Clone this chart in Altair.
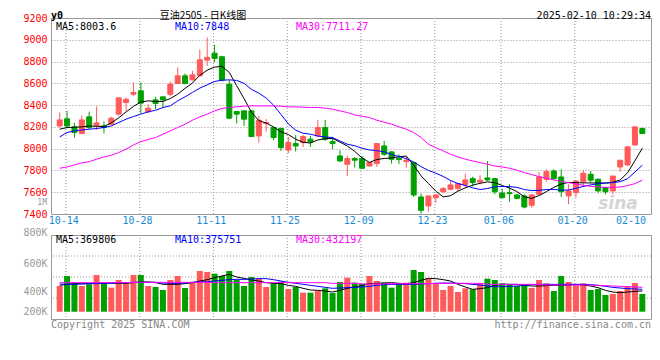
import altair as alt
import pandas as pd

# ---------------- data ----------------
dates = ["10-11", "10-14", "10-15", "10-16", "10-17", "10-18", "10-21", "10-22", "10-23", "10-24",
         "10-25", "10-28", "10-29", "10-30", "10-31", "11-01", "11-04", "11-05", "11-06", "11-07",
         "11-08", "11-11", "11-12", "11-13", "11-14", "11-15", "11-18", "11-19", "11-20", "11-21",
         "11-22", "11-25", "11-26", "11-27", "11-28", "11-29", "12-02", "12-03", "12-04", "12-05",
         "12-06", "12-09", "12-10", "12-11", "12-12", "12-13", "12-16", "12-17", "12-18", "12-19",
         "12-20", "12-23", "12-24", "12-25", "12-26", "12-27", "12-30", "12-31", "01-02", "01-03",
         "01-06", "01-07", "01-08", "01-09", "01-10", "01-13", "01-14", "01-15", "01-16", "01-17",
         "01-20", "01-21", "01-22", "01-23", "01-24", "01-27", "02-05", "02-06", "02-07", "02-10"]

opens = [8209, 8274, 8200, 8139, 8292, 8215, 8209, 8225, 8317, 8424,
         8500, 8531, 8338, 8448, 8476, 8500, 8598, 8669, 8632, 8669,
         8813, 8877, 8844, 8592, 8341, 8347, 8347, 8117, 8231, 8194,
         8185, 7988, 8047, 8056, 8087, 8117, 8194, 8065, 7933, 7857,
         7909, 7909, 7841, 7863, 8025, 7970, 7912, 7881, 7872, 7556,
         7474, 7550, 7605, 7627, 7636, 7667, 7725, 7694, 7731, 7725,
         7593, 7596, 7575, 7566, 7480, 7581, 7719, 7795, 7740, 7566,
         7596, 7697, 7765, 7719, 7642, 7612, 7832, 7851, 8034, 8185]
highs = [8332, 8347, 8237, 8304, 8341, 8387, 8249, 8292, 8467, 8470,
         8608, 8608, 8408, 8476, 8476, 8617, 8746, 8690, 8715, 8911,
         9021, 8954, 8853, 8629, 8347, 8353, 8356, 8301, 8271, 8200,
         8194, 8108, 8126, 8126, 8117, 8264, 8264, 8108, 7985, 7933,
         7924, 7933, 7872, 8047, 8071, 7979, 7949, 7924, 7872, 7587,
         7566, 7581, 7648, 7710, 7679, 7771, 7743, 7756, 7887, 7725,
         7633, 7673, 7581, 7581, 7581, 7786, 7811, 7811, 7811, 7673,
         7710, 7802, 7795, 7728, 7648, 7749, 7894, 8025, 8200, 8194]
lows = [8194, 8188, 8102, 8139, 8179, 8172, 8139, 8218, 8304, 8347,
        8485, 8323, 8332, 8363, 8372, 8479, 8598, 8592, 8623, 8669,
        8761, 8792, 8617, 8271, 8231, 8209, 8111, 8056, 8157, 8077,
        7979, 7958, 7973, 8016, 8016, 8108, 8071, 7995, 7878, 7749,
        7826, 7811, 7835, 7832, 7933, 7863, 7857, 7826, 7556, 7403,
        7422, 7504, 7596, 7618, 7605, 7642, 7654, 7673, 7703, 7581,
        7544, 7513, 7535, 7452, 7458, 7581, 7697, 7710, 7556, 7489,
        7550, 7648, 7688, 7596, 7581, 7581, 7789, 7841, 8025, 8139]
closes = [8264, 8209, 8148, 8264, 8194, 8237, 8194, 8280, 8467, 8454,
          8516, 8418, 8372, 8415, 8448, 8592, 8669, 8598, 8678, 8816,
          8838, 8828, 8629, 8280, 8317, 8271, 8111, 8261, 8240, 8102,
          8010, 8056, 8025, 8111, 8062, 8194, 8087, 8047, 7887, 7909,
          7894, 7820, 7872, 8047, 7949, 7903, 7900, 7894, 7575, 7434,
          7566, 7575, 7633, 7667, 7679, 7713, 7688, 7710, 7713, 7605,
          7550, 7587, 7544, 7464, 7575, 7740, 7789, 7725, 7605, 7612,
          7703, 7774, 7710, 7612, 7605, 7749, 7894, 8016, 8200, 8139]

ma5 = [8179, 8194, 8197, 8200, 8208, 8205, 8204, 8237, 8283, 8337,
       8388, 8429, 8439, 8434, 8434, 8460, 8500, 8553, 8603, 8673,
       8721, 8749, 8756, 8700, 8578, 8460, 8335, 8258, 8235, 8200,
       8155, 8130, 8087, 8058, 8052, 8080, 8092, 8094, 8060, 8025,
       7975, 7915, 7874, 7900, 7910, 7915, 7926, 7932, 7848, 7750,
       7680, 7610, 7557, 7568, 7610, 7640, 7665, 7682, 7695, 7688,
       7662, 7638, 7606, 7558, 7543, 7570, 7605, 7645, 7675, 7690,
       7688, 7686, 7685, 7685, 7684, 7692, 7712, 7778, 7890, 8004]
ma10 = [8108, 8148, 8163, 8172, 8179, 8185, 8194, 8209, 8240, 8271,
        8295, 8317, 8338, 8353, 8378, 8393, 8439, 8476, 8516, 8556,
        8586, 8617, 8629, 8632, 8627, 8600, 8545, 8510, 8465, 8400,
        8315, 8228, 8169, 8142, 8133, 8116, 8108, 8102, 8071, 8041,
        8027, 8004, 7988, 7982, 7971, 7945, 7928, 7908, 7878, 7835,
        7800, 7775, 7745, 7708, 7680, 7662, 7640, 7625, 7634, 7650,
        7652, 7652, 7644, 7625, 7615, 7617, 7625, 7626, 7619, 7620,
        7636, 7653, 7667, 7678, 7684, 7688, 7697, 7724, 7786, 7848]
ma30 = [7820, 7832, 7851, 7869, 7881, 7903, 7924, 7940, 7964, 7995,
        8034, 8065, 8084, 8102, 8133, 8163, 8194, 8224, 8261, 8292,
        8317, 8347, 8369, 8378, 8384, 8390, 8393, 8393, 8393, 8393,
        8390, 8384, 8384, 8381, 8378, 8378, 8372, 8363, 8347, 8332,
        8310, 8298, 8286, 8261, 8243, 8225, 8200, 8179, 8148, 8102,
        8041, 8010, 7979, 7949, 7924, 7903, 7887, 7872, 7857, 7841,
        7832, 7820, 7802, 7780, 7762, 7743, 7728, 7713, 7700, 7688,
        7676, 7664, 7654, 7648, 7645, 7645, 7648, 7661, 7679, 7711]

# volume, in thousands, as read against the panel's own axis
volumes_k = [435.7, 507.1, 459.5, 435.7, 447.6, 514.3, 459.5, 423.8, 478.6, 454.8,
             514.3, 514.3, 435.7, 428.6, 407.1, 478.6, 507.1, 421.4, 464.3, 542.9,
             535.7, 523.8, 507.1, 542.9, 478.6, 435.7, 500.0, 490.5, 428.6, 454.8,
             466.7, 414.3, 428.6, 388.1, 388.1, 400.0, 419.0, 385.7, 464.3, 495.2,
             459.5, 452.4, 507.1, 471.4, 459.5, 423.8, 454.8, 459.5, 550.0, 535.7,
             490.5, 452.4, 407.1, 435.7, 392.9, 419.0, 411.9, 454.8, 488.1, 478.6,
             454.8, 447.6, 435.7, 447.6, 421.4, 478.6, 454.8, 400.0, 507.1, 464.3,
             447.6, 454.8, 407.1, 414.3, 371.4, 378.6, 400.0, 435.7, 457.1, 378.6]
vol_ma5_k = [440.5, 447.6, 452.4, 452.4, 452.4, 454.8, 454.8, 454.8, 454.8, 454.8,
             459.5, 464.3, 464.3, 461.9, 447.6, 447.6, 447.6, 452.4, 459.5, 471.4,
             481.0, 495.2, 507.1, 519.0, 500.0, 490.5, 478.6, 471.4, 459.5, 454.8,
             452.4, 440.5, 433.3, 419.0, 407.1, 404.8, 400.0, 392.8, 404.8, 419.0,
             428.6, 440.5, 452.4, 454.8, 457.1, 459.5, 454.8, 452.4, 459.5, 476.2,
             490.5, 488.1, 481.0, 471.4, 447.6, 428.6, 411.9, 416.7, 423.8, 440.5,
             447.6, 447.6, 447.6, 440.5, 435.7, 435.7, 438.1, 440.5, 440.5, 442.8,
             447.6, 442.8, 435.7, 423.8, 404.8, 392.8, 388.1, 392.8, 397.6, 400.0]
vol_ma10_k = [450.0, 447.6, 447.6, 450.0, 452.4, 452.4, 454.8, 457.1, 459.5, 459.5,
              461.9, 461.9, 461.9, 459.5, 457.1, 454.8, 454.8, 457.1, 461.9, 464.3,
              466.7, 471.4, 476.2, 481.0, 483.3, 483.3, 485.7, 488.1, 488.1, 481.0,
              471.4, 461.9, 454.8, 447.6, 440.5, 433.3, 426.2, 419.0, 421.4, 423.8,
              426.2, 428.6, 433.3, 440.5, 445.2, 447.6, 447.6, 447.6, 447.6, 450.0,
              452.4, 454.8, 457.1, 457.1, 454.8, 452.4, 447.6, 442.8, 435.7, 430.9,
              430.9, 433.3, 435.7, 440.5, 445.2, 447.6, 447.6, 447.6, 447.6, 447.6,
              447.6, 447.6, 445.2, 440.5, 433.3, 426.2, 421.4, 416.7, 414.3, 411.9]
vol_ma30_k = [459.5, 459.5, 459.5, 459.5, 459.5, 459.5, 459.5, 459.5, 459.5, 459.5,
              461.9, 461.9, 461.9, 461.9, 461.9, 461.9, 461.9, 461.9, 461.9, 461.9,
              461.9, 459.5, 459.5, 459.5, 459.5, 459.5, 459.5, 459.5, 459.5, 459.5,
              459.5, 459.5, 459.5, 459.5, 459.5, 459.5, 459.5, 454.8, 454.8, 454.8,
              454.8, 450.0, 450.0, 450.0, 450.0, 452.4, 452.4, 452.4, 452.4, 452.4,
              452.4, 454.8, 454.8, 454.8, 454.8, 454.8, 454.8, 454.8, 447.6, 447.6,
              447.6, 447.6, 447.6, 447.6, 447.6, 447.6, 442.8, 442.8, 442.8, 442.8,
              442.8, 442.8, 442.8, 440.5, 438.1, 435.7, 433.3, 430.9, 428.6, 426.2]

price_ticks = [7400, 7600, 7800, 8000, 8200, 8400, 8600, 8800, 9000, 9200]
vol_ticks_k = [200, 400, 600, 800]
vol_grid_k = [350, 500, 650]
vol_base_k = 252
axis_dates = ["10-14", "10-28", "11-11", "11-25", "12-09", "12-23", "01-06", "01-20"]

price_ma_labels = ["MA5:8003.6", "MA10:7848", "MA30:7711.27"]
vol_ma_labels = ["MA5:369806", "MA10:375751", "MA30:432197"]
symbol = "y0"
title_text = "豆油2505 - 日K线图"
stamp = "2025-02-10 10:29:34"

# ---------------- styling ----------------
MONO = "DejaVu Sans Mono"
RED = "#ff5a5a"
GREEN = "#00a000"
GRAY = "#999999"
DATE_BLUE = "#1a8ad4"
MA_COLORS = ["#000000", "#0000ff", "#ff00ff"]
W, HP, HV = 600, 196, 84

N = len(dates)
df = pd.DataFrame({
    "k": list(range(N)), "date": dates,
    "open": opens, "high": highs, "low": lows, "close": closes,
    "ma5": ma5, "ma10": ma10, "ma30": ma30,
    "vol": volumes_k, "vma5": vol_ma5_k, "vma10": vol_ma10_k, "vma30": vol_ma30_k,
})
df["dir"] = ["up" if c >= o else "down" for o, c in zip(opens, closes)]

grid_df = pd.DataFrame({"date": axis_dates,
                        "pos": [dates.index(d) - 0.15 for d in axis_dates]})
grid_df["lpos"] = grid_df["pos"] - 0.3
last_df = pd.DataFrame({"date": [dates[-1]], "lpos": [N - 0.5]})

xs = alt.Scale(domain=[-0.5, N - 0.5], nice=False, zero=False)
X = alt.X("k:Q", scale=xs, axis=None)
dir_scale = alt.Scale(domain=["up", "down"], range=[RED, GREEN])
COLOR = alt.Color("dir:N", scale=dir_scale, legend=None)
STROKE = alt.Stroke("dir:N", scale=dir_scale, legend=None)

ys = alt.Scale(domain=[price_ticks[0], price_ticks[-1]], nice=False, zero=False)
yaxis = alt.Axis(values=price_ticks, title=None, format="d", labelColor="#ff0000",
                 labelFont=MONO, labelFontSize=10, labelPadding=4, ticks=False, domain=False,
                 grid=True, gridColor=GRAY, gridDash=[1, 2], gridWidth=1,
                 minExtent=42, maxExtent=42, labelFlush=False)


def text_layer(t, x, y, color="#000000", align="left", baseline="middle", size=10,
               font=MONO, weight="normal", style="normal"):
    return alt.Chart(pd.DataFrame({"t": [t]})).mark_text(
        align=align, baseline=baseline, font=font, fontSize=size, color=color,
        fontWeight=weight, fontStyle=style).encode(x=alt.value(x), y=alt.value(y), text="t:N")


base = alt.Chart(df)

vgrid = alt.Chart(grid_df).mark_rule(color=GRAY, strokeDash=[1, 2], strokeWidth=1).encode(
    x=alt.X("pos:Q", scale=xs, axis=None))
watermark = text_layer("sina", 567, 186, "#d4d4d4", align="center", size=17,
                       font="DejaVu Sans", weight="bold", style="italic")
wicks = base.mark_rule(strokeWidth=1).encode(
    x=X, y=alt.Y("low:Q", scale=ys, axis=yaxis), y2="high:Q", color=COLOR)
bodies = base.mark_bar(size=5, strokeWidth=1).encode(
    x=X, y=alt.Y("open:Q", scale=ys, axis=yaxis), y2="close:Q", color=COLOR, stroke=STROKE)
ma_lines = [base.mark_line(color=c, strokeWidth=1).encode(
    x=X, y=alt.Y(f"{f}:Q", scale=ys, axis=yaxis)) for f, c in zip(["ma5", "ma10", "ma30"], MA_COLORS)]

date_labels = alt.Chart(grid_df).mark_text(font=MONO, fontSize=10, color=DATE_BLUE,
                                           align="center", baseline="middle").encode(
    x=alt.X("lpos:Q", scale=xs, axis=None), y=alt.value(HP + 7), text="date:N")
last_label = alt.Chart(last_df).mark_text(font=MONO, fontSize=10, color=DATE_BLUE,
                                          align="right", baseline="middle").encode(
    x=alt.X("lpos:Q", scale=xs, axis=None), y=alt.value(HP + 7), text="date:N")

price_texts = [
    text_layer(price_ma_labels[0], 5, 8.5, MA_COLORS[0]),
    text_layer(price_ma_labels[1], 124, 8.5, MA_COLORS[1]),
    text_layer(price_ma_labels[2], 245, 8.5, MA_COLORS[2]),
    text_layer(symbol, 0, -7, "#000000", baseline="top", size=10, weight="bold"),
    text_layer(title_text, 152, -7, "#000000", align="center", baseline="top", size=10,
               font="Noto Sans CJK SC"),
    text_layer(stamp, W, -7, "#000000", align="right", baseline="top", size=10),
    text_layer("1M", -4, 185, GRAY, align="right", size=8),
]

price = alt.layer(vgrid, watermark, wicks, bodies, *ma_lines, date_labels, last_label,
                  *price_texts).properties(width=W, height=HP)

# ---------------- volume panel ----------------
vys = alt.Scale(domain=[vol_ticks_k[0], vol_ticks_k[-1]], nice=False, zero=False)
vaxis = alt.Axis(values=vol_ticks_k, title=None, labelExpr="datum.value + 'K'",
                 labelColor=GRAY, labelFont=MONO, labelFontSize=10, labelPadding=4,
                 ticks=False, domain=False, grid=False, minExtent=42, maxExtent=42,
                 labelFlush=False,
                 labelBaseline={"condition": {"test": "datum.value >= 800", "value": "alphabetic"},
                                "value": "middle"},
                 labelOffset={"condition": {"test": "datum.value <= 200", "value": -8},
                              "value": 0})

hgrid = alt.Chart(pd.DataFrame({"v": vol_grid_k})).mark_rule(
    color=GRAY, strokeDash=[1, 2], strokeWidth=1).encode(y=alt.Y("v:Q", scale=vys, axis=vaxis))
vbars = base.mark_bar(size=6).encode(
    x=X, y=alt.Y("vol:Q", scale=vys, axis=vaxis), y2=alt.datum(vol_base_k), color=COLOR)
vlines = [base.mark_line(color=c, strokeWidth=1).encode(
    x=X, y=alt.Y(f"{f}:Q", scale=vys, axis=vaxis)) for f, c in zip(["vma5", "vma10", "vma30"], MA_COLORS)]
vol_texts = [
    text_layer(vol_ma_labels[0], 5, 5, MA_COLORS[0]),
    text_layer(vol_ma_labels[1], 124, 5, MA_COLORS[1]),
    text_layer(vol_ma_labels[2], 245, 5, MA_COLORS[2]),
    text_layer("Copyright 2025 SINA.COM", 0, HV + 1, "#888888", baseline="top"),
    text_layer("http://finance.sina.com.cn", W, HV + 1, "#888888", align="right", baseline="top"),
]

volume = alt.layer(vgrid, hgrid, vbars, *vlines, *vol_texts).properties(width=W, height=HV)

chart = alt.vconcat(price, volume, spacing=21, bounds="flush").properties(
    padding={"top": 2, "left": 0, "right": 0, "bottom": 0}, background="#ffffff"
).configure_view(stroke=GRAY, strokeWidth=1)

chart.save("out.html", embed_options={"renderer": "svg", "actions": False})
